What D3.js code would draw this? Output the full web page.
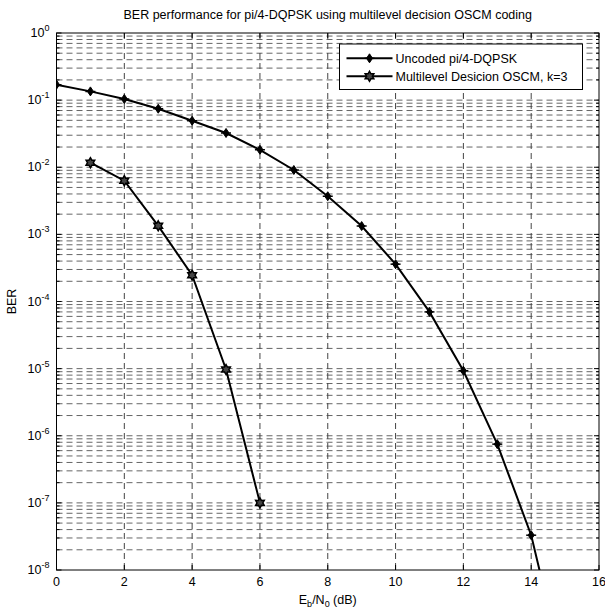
<!DOCTYPE html>
<html>
<head>
<meta charset="utf-8">
<script src="https://cdn.jsdelivr.net/npm/d3@7"></script>
<style>
  body { margin: 0; background: #fff; }
  svg text { font-family: "Liberation Sans", Arial, sans-serif; fill: #000; }
</style>
</head>
<body>
<div id="chart"></div>
<script>
// values
const ebno = [0, 1, 2, 3, 4, 5, 6, 7, 8, 9, 10, 11, 12, 13, 14, 15];
const uncodedBer = [0.17, 0.135, 0.104, 0.0745, 0.0493, 0.0324, 0.0182, 0.0091, 0.0037, 0.00133,
  3.6e-4, 7.0e-5, 9.3e-6, 7.5e-7, 3.3e-8, 2.5e-10];
const codedEbno = [1, 2, 3, 4, 5, 6];
const codedBer = [0.0117, 0.0063, 0.00134, 2.47e-4, 9.7e-6, 1.0e-7];
const xTicks = [0, 2, 4, 6, 8, 10, 12, 14, 16];
const yExps = [0, -1, -2, -3, -4, -5, -6, -7, -8];
const seriesNames = ["Uncoded pi/4-DQPSK", "Multilevel Desicion OSCM, k=3"];

const W = 605, H = 613;
const margin = { top: 33, right: 6, bottom: 43, left: 56.5 };
const width = W - margin.left - margin.right;
const height = H - margin.top - margin.bottom;
const fs = "12.5px", supFs = "9px";

const svg = d3.select("#chart").append("svg")
  .attr("width", W)
  .attr("height", H);

const g = svg.append("g")
  .attr("transform", `translate(${margin.left},${margin.top})`);

const x = d3.scaleLinear().domain([0, 16]).range([0, width]);
const y = d3.scaleLog().domain([1e-8, 1]).range([height, 0]);

g.append("defs").append("clipPath").attr("id", "clip")
  .append("rect").attr("width", width).attr("height", height);

// grid: horizontal major + minor lines
const minorVals = [];
for (let e = -8; e < 0; e++) {
  for (let m = 2; m <= 9; m++) minorVals.push(m * Math.pow(10, e));
}
const majorVals = yExps.map(e => Math.pow(10, e));

g.append("g").selectAll("line")
  .data(minorVals.concat(majorVals.slice(1, -1)))
  .join("line")
  .attr("x1", 0).attr("x2", width)
  .attr("y1", d => y(d)).attr("y2", d => y(d))
  .attr("stroke", "#666")
  .attr("stroke-width", 1)
  .attr("stroke-dasharray", "6,4");

g.append("g").selectAll("line")
  .data(xTicks.slice(1, -1))
  .join("line")
  .attr("x1", d => x(d)).attr("x2", d => x(d))
  .attr("y1", 0).attr("y2", height)
  .attr("stroke", "#444")
  .attr("stroke-width", 1)
  .attr("stroke-dasharray", "6,4");

// tick marks inside the box, on all four sides
const ticks = g.append("g").attr("stroke", "#000").attr("stroke-width", 1);
xTicks.forEach(t => {
  ticks.append("line").attr("x1", x(t)).attr("x2", x(t)).attr("y1", height).attr("y2", height - 5);
  ticks.append("line").attr("x1", x(t)).attr("x2", x(t)).attr("y1", 0).attr("y2", 5);
});
majorVals.forEach(v => {
  ticks.append("line").attr("x1", 0).attr("x2", 5).attr("y1", y(v)).attr("y2", y(v));
  ticks.append("line").attr("x1", width).attr("x2", width - 5).attr("y1", y(v)).attr("y2", y(v));
});
minorVals.forEach(v => {
  ticks.append("line").attr("x1", 0).attr("x2", 3).attr("y1", y(v)).attr("y2", y(v));
  ticks.append("line").attr("x1", width).attr("x2", width - 3).attr("y1", y(v)).attr("y2", y(v));
});

// box
g.append("rect")
  .attr("width", width).attr("height", height)
  .attr("fill", "none").attr("stroke", "#000").attr("stroke-width", 1);

// x tick labels
g.append("g").selectAll("text")
  .data(xTicks)
  .join("text")
  .attr("x", d => x(d))
  .attr("y", height + 16)
  .attr("text-anchor", "middle")
  .style("font-size", fs)
  .text(d => d);

// y tick labels 10^e
const yl = g.append("g").selectAll("text")
  .data(yExps)
  .join("text")
  .attr("x", -7)
  .attr("y", d => y(Math.pow(10, d)) + 4)
  .attr("text-anchor", "end")
  .style("font-size", fs);
yl.append("tspan").text("10");
yl.append("tspan").attr("dy", -6).style("font-size", supFs).text(d => d);

// series lines
const line = d3.line()
  .x(d => x(d[0]))
  .y(d => y(d[1]));

const plot = g.append("g").attr("clip-path", "url(#clip)");

const uncoded = ebno.map((e, i) => [e, uncodedBer[i]]);
const coded = codedEbno.map((e, i) => [e, codedBer[i]]);

plot.append("path").datum(uncoded)
  .attr("d", line)
  .attr("fill", "none").attr("stroke", "#000").attr("stroke-width", 2);
plot.append("path").datum(coded)
  .attr("d", line)
  .attr("fill", "none").attr("stroke", "#000").attr("stroke-width", 2);

// markers
const diamond = "M0,-4.5L3,0L0,4.5L-3,0Z";
const hexagram = (function () {
  const r = 5, pts = [];
  for (let k = 0; k < 12; k++) {
    const a = -Math.PI / 2 + k * Math.PI / 6;
    const rr = k % 2 === 0 ? r : r * 0.577;
    pts.push([rr * Math.cos(a), rr * Math.sin(a)]);
  }
  return "M" + pts.map(p => p.join(",")).join("L") + "Z";
})();

function drawDiamond(sel) {
  sel.append("path").attr("d", diamond)
    .attr("fill", "#000").attr("stroke", "#000").attr("stroke-width", 1);
  sel.append("path").attr("d", "M-5,0H5")
    .attr("stroke", "#000").attr("stroke-width", 1.5);
}
function drawHexagram(sel) {
  sel.append("path").attr("d", hexagram)
    .attr("fill", "#444").attr("stroke", "#000").attr("stroke-width", 1.5);
}

plot.selectAll(".m1")
  .data(uncoded.filter(d => d[1] >= 1e-8))
  .join("g")
  .attr("class", "m1")
  .attr("transform", d => `translate(${x(d[0])},${y(d[1])})`)
  .each(function () { drawDiamond(d3.select(this)); });

plot.selectAll(".m2")
  .data(coded)
  .join("g")
  .attr("class", "m2")
  .attr("transform", d => `translate(${x(d[0])},${y(d[1])})`)
  .each(function () { drawHexagram(d3.select(this)); });

// legend
const lx = 339.5 - margin.left, ly = 44 - margin.top;
const legend = g.append("g").attr("transform", `translate(${lx},${ly})`);
legend.append("rect")
  .attr("width", 243).attr("height", 45.5)
  .attr("fill", "#fff").attr("stroke", "#000").attr("stroke-width", 1);

seriesNames.forEach((name, i) => {
  const ry = 14.3 + i * 18;
  legend.append("line")
    .attr("x1", 7).attr("x2", 53).attr("y1", ry).attr("y2", ry)
    .attr("stroke", "#000").attr("stroke-width", 2);
  const mk = legend.append("g").attr("transform", `translate(30,${ry})`);
  if (i === 0) drawDiamond(mk); else drawHexagram(mk);
  legend.append("text")
    .attr("x", 56).attr("y", ry + 4.5)
    .style("font-size", fs)
    .text(name);
});

// title and axis labels
svg.append("text")
  .attr("x", margin.left + width / 2)
  .attr("y", 19)
  .attr("text-anchor", "middle")
  .style("font-size", fs)
  .text("BER performance for pi/4-DQPSK using multilevel decision OSCM coding");

const xl = svg.append("text")
  .attr("x", margin.left + width / 2)
  .attr("y", 604)
  .attr("text-anchor", "middle")
  .style("font-size", fs);
xl.append("tspan").text("E");
xl.append("tspan").attr("dy", 3).style("font-size", supFs).text("b");
xl.append("tspan").attr("dy", -3).text("/N");
xl.append("tspan").attr("dy", 3).style("font-size", supFs).text("0");
xl.append("tspan").attr("dy", -3).text(" (dB)");

svg.append("text")
  .attr("transform", `translate(16,${margin.top + height / 2}) rotate(-90)`)
  .attr("text-anchor", "middle")
  .style("font-size", fs)
  .text("BER");
</script>
</body>
</html>
